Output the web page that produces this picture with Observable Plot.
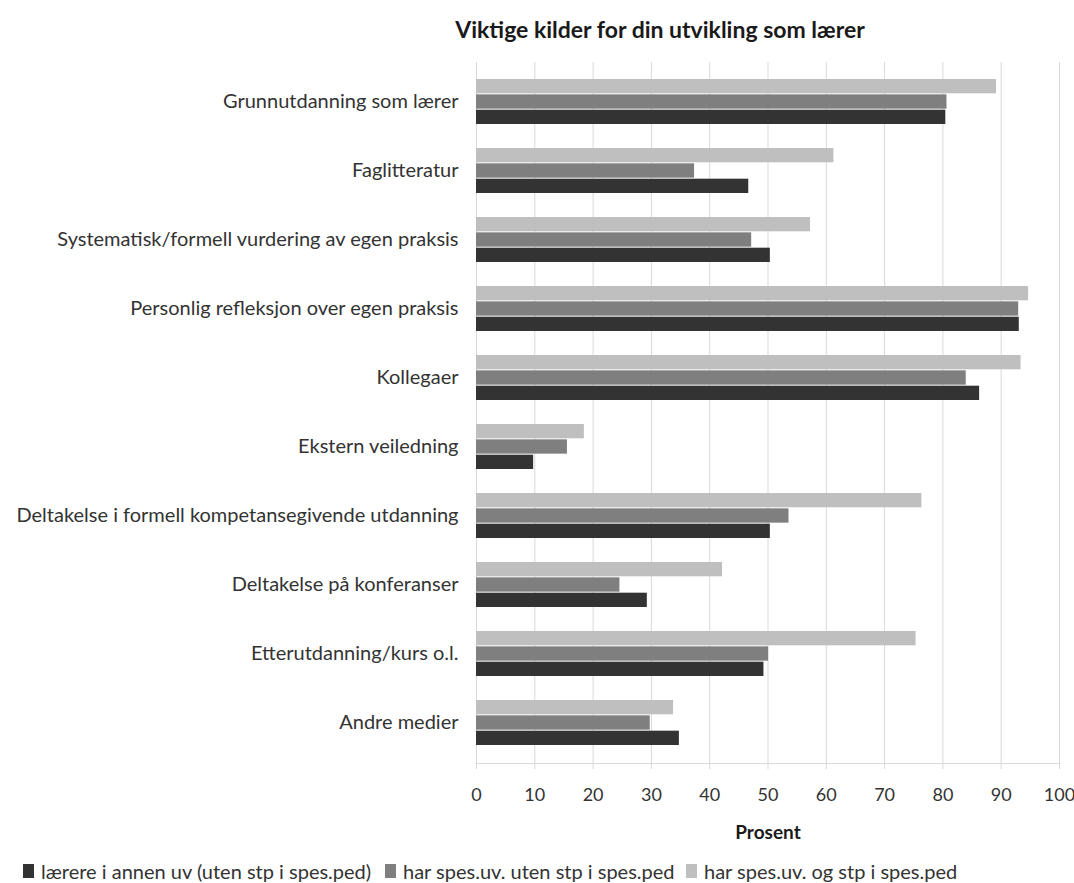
<!DOCTYPE html>
<html>
<head>
<meta charset="utf-8">
<script src="https://cdn.jsdelivr.net/npm/d3@7"></script>
<script src="https://cdn.jsdelivr.net/npm/@observablehq/plot@0.6"></script>
<style>
  html, body { margin: 0; padding: 0; background: #fff; }
  body { width: 1074px; height: 883px; overflow: hidden; font-family: Lato, sans-serif; color: #333; }
  #title { height: 55px; position: relative; }
  #title span { position: absolute; left: 660px; top: 15px; transform: translateX(-50%); font-weight: bold; font-size: 23px; line-height: normal; color: #1a1a1a; white-space: nowrap; }
  #chart svg { display: block; }
  #legend { position: relative; height: 38px; font-size: 20px; color: #333; }
  .item { position: absolute; top: 14px; height: 24px; display: flex; align-items: center; white-space: nowrap; }
  .sw { width: 11px; height: 14px; margin-right: 7px; }
</style>
</head>
<body>
<div id="title"><span>Viktige kilder for din utvikling som lærer</span></div>
<div id="chart"></div>
<div id="legend"></div>
<script>
const categories = [
  "Grunnutdanning som lærer",
  "Faglitteratur",
  "Systematisk/formell vurdering av egen praksis",
  "Personlig refleksjon over egen praksis",
  "Kollegaer",
  "Ekstern veiledning",
  "Deltakelse i formell kompetansegivende utdanning",
  "Deltakelse på konferanser",
  "Etterutdanning/kurs o.l.",
  "Andre medier"
];
const seriesNames = [
  "lærere i annen uv (uten stp i spes.ped)",
  "har spes.uv. uten stp i spes.ped",
  "har spes.uv. og stp i spes.ped"
];
const seriesColors = ["#333333", "#7f7f7f", "#bfbfbf"];
// values per category, in category order
const annenUv   = [80.5, 46.7, 50.4, 93.1, 86.3,  9.8, 50.4, 29.3, 49.3, 34.8];
const utenStp   = [80.7, 37.4, 47.2, 93.0, 84.0, 15.6, 53.6, 24.6, 50.1, 29.8];
const medStp    = [89.2, 61.3, 57.3, 94.7, 93.4, 18.5, 76.4, 42.2, 75.4, 33.8];
const xTicks = [0, 10, 20, 30, 40, 50, 60, 70, 80, 90, 100];
const xLabel = "Prosent";

const seriesValues = [annenUv, utenStp, medStp];
// draw order within a group: top = light, middle = mid, bottom = dark
const rowOrder = [2, 1, 0];

const W = 1074, H = 790;
const mT = 7, mB = 82, mL = 476, mR = 15;
const padInner = 0.342, padOuter = 0.182;
const innerH = H - mT - mB;
const step = innerH / (categories.length - padInner + 2 * padOuter);
const bw = step * (1 - padInner);
const sub = bw / 3;

const marks = [
  Plot.gridX(xTicks, {stroke: "#d9d9d9", strokeOpacity: 1, strokeWidth: 1}),
];
rowOrder.forEach((si, pos) => {
  const data = categories.map((c, i) => ({category: c, value: seriesValues[si][i]}));
  marks.push(Plot.barX(data, {
    x: "value", y: "category", fill: seriesColors[si],
    insetTop: pos * sub, insetBottom: (2 - pos) * sub
  }));
});
marks.push(Plot.frame({anchor: "bottom", stroke: "#d9d9d9"}));
marks.push(Plot.axisX(xTicks, {
  tickSize: 6, tickPadding: 19, stroke: "#d9d9d9", fill: "#333",
  fontSize: 18, label: null
}));
marks.push(Plot.text([xLabel], {
  frameAnchor: "bottom", dy: 75, fontSize: 19, fontWeight: "bold", fill: "#1a1a1a"
}));
marks.push(Plot.axisY({tickSize: 0, tickPadding: 18, fontSize: 20, fill: "#333", label: null}));

const plot = Plot.plot({
  width: W, height: H,
  marginTop: mT, marginBottom: mB, marginLeft: mL, marginRight: mR,
  style: {fontFamily: "Lato, sans-serif", fontSize: "18px", background: "#fff"},
  x: {domain: [0, 100]},
  y: {domain: categories, paddingInner: padInner, paddingOuter: padOuter, align: 0.5},
  marks
});
document.getElementById("chart").appendChild(plot);

const legendPos = [23, 385, 686];
const leg = document.getElementById("legend");
seriesNames.forEach((n, i) => {
  const it = document.createElement("div");
  it.className = "item";
  it.style.left = legendPos[i] + "px";
  it.innerHTML = `<div class="sw" style="background:${seriesColors[i]}"></div><span>${n}</span>`;
  leg.appendChild(it);
});
</script>
</body>
</html>
